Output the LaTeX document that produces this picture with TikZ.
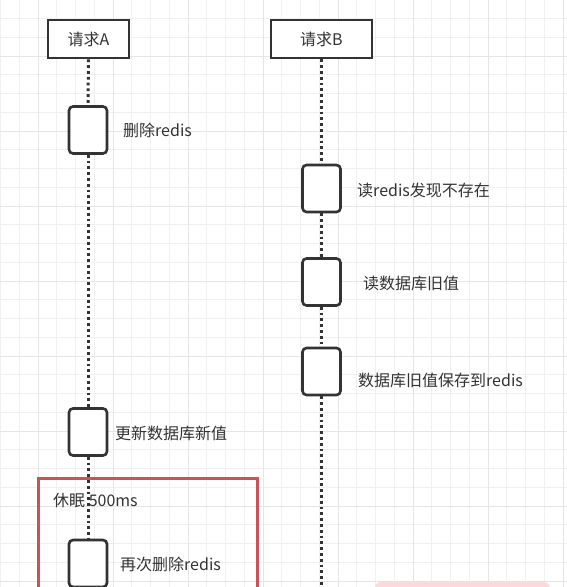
\documentclass[tikz,border=0pt]{standalone}
\usepackage{fontspec}
\setmainfont{Noto Sans CJK SC}
\definecolor{boxred}{RGB}{204,82,90}
\definecolor{ink}{RGB}{51,51,51}
\begin{document}
\begin{tikzpicture}[x=1pt,y=-1pt,
  minorgrid/.style={draw=black!6,line width=0.8pt},
  majorgrid/.style={draw=black!10,line width=1pt},
  head/.style={draw=ink,line width=2.8pt,fill=white,minimum height=38pt,inner sep=0pt,text=ink,font=\fontsize{16}{19}\selectfont},
  act/.style={draw=ink,line width=2.6pt,fill=white,rounded corners=4pt,minimum width=38pt,minimum height=47pt,inner sep=0pt},
  lbl/.style={anchor=west,inner sep=0pt,text=ink,font=\fontsize{16}{19}\selectfont},
  life/.style={draw=ink,line width=3pt,dash pattern=on 2.8pt off 3pt},
  redbox/.style={draw=boxred,line width=3pt}]
\useasboundingbox (0,0) rectangle (567,587);
\begin{scope}
\clip (0,0) rectangle (567,587);
\fill[white] (0,0) rectangle (567,587);
\foreach \i in {-2,...,28} {
  \draw[minorgrid] ({38+18.75*\i},0) -- ({38+18.75*\i},587);
  \draw[minorgrid] (0,{56+18.75*(\i-1)}) -- (567,{56+18.75*(\i-1)});
}
\foreach \i in {-1,...,7} {
  \draw[majorgrid] ({38+75*\i},0) -- ({38+75*\i},587);
  \draw[majorgrid] (0,{56+75*\i}) -- (567,{56+75*\i});
}
\fill[pink!60,rounded corners=6pt] (375,582) rectangle (550,600);
\end{scope}
% heads
\node[head,minimum width=81pt] (A) at (88.5,39) {请求A};
\node[head,minimum width=101pt] (B) at (321.5,39) {请求B};
% activations
\node[act] (A1) at (88,130) {};
\node[act] (A2) at (88,432) {};
\node[act] (A3) at (88,563.5) {};
\node[act] (B1) at (321.5,188.5) {};
\node[act] (B2) at (321.5,282) {};
\node[act] (B3) at (321.5,371.5) {};
\coordinate (Bend) at (321.5,590);
% lifelines
\draw[life] (A.south) -- (A1.north);
\draw[life] (A1.south) -- (A2.north);
\draw[life] (A2.south) -- (A3.north);
\draw[life] (B.south) -- (B1.north);
\draw[life] (B1.south) -- (B2.north);
\draw[life] (B2.south) -- (B3.north);
\draw[life] (B3.south) -- (Bend);
% red box
\draw[redbox] (38,478) rectangle (257,600);
% labels
\node[lbl] (L1) at (123,130) {删除redis};
\node[lbl] (L2) at (357,190) {读redis发现不存在};
\node[lbl] (L3) at (363,283) {读数据库旧值};
\node[lbl] (L4) at (358,380) {数据库旧值保存到redis};
\node[lbl] (L5) at (115,433) {更新数据库新值};
\node[lbl] (L6) at (53,500) {休眠 500ms};
\node[lbl] (L7) at (120,564) {再次删除redis};
\end{tikzpicture}
\end{document}
